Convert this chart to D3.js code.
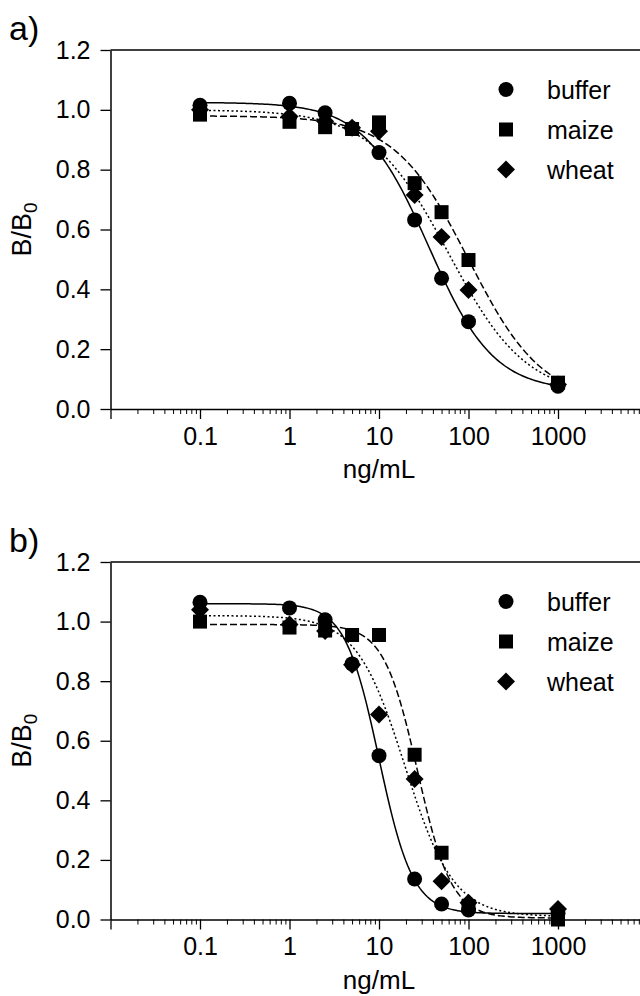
<!DOCTYPE html>
<html>
<head>
<meta charset="utf-8">
<script src="https://cdn.jsdelivr.net/npm/d3@7"></script>
<style>
  body { margin: 0; background: #fff; }
  svg { display: block; }
  text { font-family: "Liberation Sans", Arial, sans-serif; fill: #000; }
</style>
</head>
<body>
<svg id="chart"></svg>
<script>
// concentrations (ng/mL)
var conc = [0.1, 1, 2.5, 5, 10, 25, 50, 100, 1000];
var seriesNames = ['buffer', 'maize', 'wheat'];

// panel a) measured B/B0
var bufferA = [1.015, 1.022, 0.99, 0.938, 0.857, 0.632, 0.437, 0.292, 0.076];
var maizeA  = [0.984, 0.96, 0.942, 0.936, 0.958, 0.755, 0.658, 0.498, 0.088];
var wheatA  = [1.0, 0.978, 0.962, 0.94, 0.928, 0.715, 0.575, 0.398, 0.082];

// panel b) measured B/B0
var bufferB = [1.065, 1.046, 1.006, 0.858, 0.55, 0.136, 0.052, 0.032, 0.02];
var maizeB  = [1.0, 0.98, 0.97, 0.955, 0.955, 0.553, 0.224, 0.045, 0.0];
var wheatB  = [1.04, 0.99, 0.968, 0.855, 0.688, 0.472, 0.128, 0.056, 0.035];

// four-parameter logistic fits: [top, bottom, IC50, slope]
var bufferFitA = [1.025, 0.06, 36, 1.2];
var maizeFitA  = [0.98, 0.02, 100, 1.05];
var wheatFitA  = [1.0, 0.04, 60, 1.0];
var bufferFitB = [1.06, 0.02, 10, 2.3];
var maizeFitB  = [0.99, 0.005, 27, 2.3];
var wheatFitB  = [1.02, 0.01, 19.5, 1.6];

var xMajor = [0.01, 0.1, 1, 10, 100, 1000, 10000];
var xLabels = ['', '0.1', '1', '10', '100', '1000', ''];
var yTicks = [0, 0.2, 0.4, 0.6, 0.8, 1.0, 1.2];

var width = 640, height = 996;

var svg = d3.select('#chart')
    .attr('width', width)
    .attr('height', height);

var x = d3.scaleLog().domain([0.01, 10000]).range([110.5, 647.5]);

var xMinor = [];
xMajor.slice(0, -1).forEach(function (d) {
    for (var k = 2; k <= 9; k++) xMinor.push(d * k);
});

var dashes = { buffer: null, maize: '7,3', wheat: '2,2.5' };

var symbols = {
    buffer: function (g) { g.append('circle').attr('r', 7.5); },
    maize: function (g) { g.append('rect').attr('x', -7).attr('y', -7).attr('width', 14).attr('height', 14); },
    wheat: function (g) {
        g.append('path').attr('d', 'M0,-9L9,0L0,9L-9,0Z');
    }
};

var fit = function (p, c) {
    return p[1] + (p[0] - p[1]) / (1 + Math.pow(c / p[2], p[3]));
};

var drawPanel = function (top, bottom, label, values, fits) {
    var y = d3.scaleLinear().domain([0, 1.2]).range([bottom, top]);
    var g = svg.append('g');

    // top frame line
    g.append('line')
        .attr('x1', x.range()[0]).attr('x2', width + 10)
        .attr('y1', top).attr('y2', top)
        .attr('stroke', '#000').attr('stroke-width', 1.5);

    // minor x ticks
    g.append('g')
        .attr('transform', 'translate(0,' + bottom + ')')
        .call(d3.axisBottom(x).tickValues(xMinor).tickSize(5).tickFormat(''))
        .call(function (a) {
            a.select('.domain').remove();
            a.selectAll('line').attr('stroke-width', 1);
        });

    // major x ticks
    g.append('g')
        .attr('transform', 'translate(0,' + bottom + ')')
        .call(d3.axisBottom(x).tickValues(xMajor).tickSize(10).tickSizeOuter(0).tickPadding(8)
            .tickFormat(function (d, i) { return xLabels[i]; }))
        .call(function (a) {
            a.select('.domain').attr('stroke-width', 1.5);
            a.selectAll('line').attr('stroke-width', 1.3);
            a.selectAll('text').attr('font-size', 25).attr('font-family', null);
        });

    // y axis
    g.append('g')
        .attr('transform', 'translate(' + x.range()[0] + ',0)')
        .call(d3.axisLeft(y).tickValues(yTicks).tickSize(10).tickSizeOuter(0).tickPadding(10)
            .tickFormat(d3.format('.1f')))
        .call(function (a) {
            a.select('.domain').attr('stroke-width', 1.5);
            a.selectAll('line').attr('stroke-width', 1.3);
            a.selectAll('text').attr('font-size', 25).attr('font-family', null);
        });

    // fitted curves
    var cs = d3.range(0, 201).map(function (i) { return 0.1 * Math.pow(10, i * 4 / 200); });
    var line = d3.line()
        .x(function (d) { return x(d[0]); })
        .y(function (d) { return y(d[1]); });

    seriesNames.forEach(function (s, i) {
        g.append('path')
            .datum(cs.map(function (c) { return [c, fit(fits[i], c)]; }))
            .attr('d', line)
            .attr('fill', 'none')
            .attr('stroke', '#000')
            .attr('stroke-width', 1.5)
            .attr('stroke-dasharray', dashes[s]);
    });

    // markers
    seriesNames.forEach(function (s, i) {
        g.append('g').selectAll('g')
            .data(values[i])
            .enter()
            .append('g')
            .attr('transform', function (d, j) { return 'translate(' + x(conc[j]) + ',' + y(d) + ')'; })
            .each(function () { symbols[s](d3.select(this)); });
    });

    // legend
    var leg = g.append('g');
    seriesNames.forEach(function (s, i) {
        var ly = top + 39.5 + i * 40;
        symbols[s](leg.append('g').attr('transform', 'translate(506,' + ly + ')'));
        leg.append('text')
            .attr('x', 547).attr('y', ly + 9)
            .attr('font-size', 25)
            .text(s);
    });

    // axis titles
    g.append('text')
        .attr('x', 379).attr('y', bottom + 69)
        .attr('text-anchor', 'middle')
        .attr('font-size', 26)
        .text('ng/mL');

    var yl = g.append('text')
        .attr('transform', 'translate(31,' + (top + bottom) / 2 + ') rotate(-90)')
        .attr('text-anchor', 'middle')
        .attr('font-size', 27);
    yl.append('tspan').text('B/B');
    yl.append('tspan').attr('dy', 6).attr('font-size', 19).text('0');

    g.append('text')
        .attr('x', 9).attr('y', top - 10)
        .attr('font-size', 34)
        .text(label);
};

drawPanel(50, 409, 'a)', [bufferA, maizeA, wheatA], [bufferFitA, maizeFitA, wheatFitA]);
drawPanel(562, 919.5, 'b)', [bufferB, maizeB, wheatB], [bufferFitB, maizeFitB, wheatFitB]);
</script>
</body>
</html>
